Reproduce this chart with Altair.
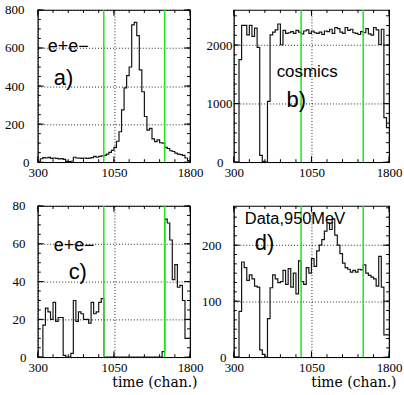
import altair as alt
import pandas as pd

# Time spectra: 60 bins of 25 channels between 300 and 1800
BIN_START = 300
BIN_WIDTH = 25

counts_a = [5, 18, 24, 22, 25, 20, 22, 20, 17, 19,
            15, 4, 3, 5, 26, 22, 21, 20, 22, 20,
            21, 24, 30, 26, 30, 33, 36, 42, 52, 62,
            78, 110, 160, 275, 390, 455, 500, 722, 735, 665,
            485, 370, 240, 168, 178, 122, 108, 117, 102, 100,
            78, 72, 60, 56, 48, 42, 40, 36, 22, 8]

counts_b = [0, 0, 1750, 2335, 2335, 2175, 2335, 2150, 2290, 1960,
            115, 15, 0, 1040, 2175, 2220, 2260, 2360, 2005, 2250,
            2200, 2210, 2230, 2200, 2250, 2220, 2190, 2240, 2260, 2200,
            2240, 2210, 2200, 2220, 2180, 2240, 2230, 2270, 2200, 2300,
            2280, 2220, 2200, 2300, 2250, 2270, 2210, 2200, 2180, 2230,
            2210, 2280, 2190, 2170, 2300, 2260, 2010, 2270, 760, 590]

counts_c = [0, 0, 17, 26, 24, 20, 29, 19, 21, 21,
            1, 0, 0, 2, 30, 19, 24, 23, 20, 20,
            18, 29, 23, 24, 29, 31, 0, 0, 0, 0,
            0, 0, 0, 0, 0, 0, 0, 0, 0, 0,
            0, 0, 0, 0, 0, 0, 0, 0, 0, 3,
            73, 71, 62, 41, 49, 37, 38, 30, 10, 10]

counts_d = [0, 0, 82, 170, 160, 137, 147, 140, 127, 125,
            13, 5, 0, 69, 124, 147, 140, 133, 135, 155,
            130, 158, 125, 150, 113, 172, 135, 130, 160, 150,
            176, 162, 190, 200, 210, 225, 240, 228, 247, 218,
            200, 185, 168, 160, 157, 152, 155, 152, 157, 156,
            165, 150, 146, 143, 140, 127, 180, 125, 40, 40]

# time-window cuts
cut_channels = [950, 1550]

# axis labels and tick marks
x_label_values = [300, 1050, 1800]
x_minor_ticks = [300, 450, 600, 750, 900, 1050, 1200, 1350, 1500, 1650, 1800]

y_labels_a = [0, 200, 400, 600, 800]
y_labels_b = [0, 1000, 2000]
y_labels_c = [0, 20, 40, 60, 80]
y_labels_d = [0, 100, 200]

y_minor_a = [50 * i for i in range(17)]
y_minor_b = [1000 * i / 6 for i in range(16)]
y_minor_c = [5 * i for i in range(17)]
y_minor_d = [100 * i / 6 for i in range(17)]

x_title = "time (chan.)"
tags = [("e+e\u2212", "a)"), ("cosmics", "b)"), ("e+e\u2212", "c)"), ("Data,950MeV", "d)")]

SERIF = "Liberation Serif"
SANS = "Liberation Sans"
GREEN = "#1ee61e"


def x_channel(w, with_title):
    kw = dict(values=x_label_values, ticks=False, domain=False, grid=True,
              gridColor="black", gridDash=[1, 2], gridWidth=1, gridOpacity=0.85,
              labelFont=SERIF, labelFontSize=13, labelColor="black", labelPadding=4,
              labelFlush=False, labelOverlap=False, format="d")
    if with_title:
        kw.update(title=x_title, titleFont="DejaVu Serif", titleFontSize=14,
                  titleFontWeight="normal", titleColor="black", titleAnchor="end",
                  titleAlign="right", titleBaseline="top", titleX=w + 7, titleY=18)
    else:
        kw.update(title=None)
    return alt.X("x:Q", scale=alt.Scale(domain=[300, 1800], nice=False, zero=False),
                 axis=alt.Axis(**kw))


def y_channel(domain, labels, pad_zero, pad):
    return alt.Y("n:Q", scale=alt.Scale(domain=domain, nice=False, zero=True),
                 axis=alt.Axis(values=labels, title=None, ticks=False, domain=False, grid=True,
                               gridColor="black", gridDash=[1, 2], gridWidth=1, gridOpacity=0.85,
                               labelFont=SERIF, labelFontSize=13, labelColor="black",
                               labelAlign="right", labelBaseline="middle",
                               labelPadding={"condition": {"test": "datum.value === 0", "value": pad_zero},
                                             "value": pad},
                               labelFlush=False, labelOverlap=False, format="d"))


def tick_layers(xc, yc, y_minor, y_major, w, h):
    out = []
    for vals, size in ((x_minor_ticks, 3), (x_label_values, 6)):
        rule = alt.Chart(pd.DataFrame({"x": vals})).mark_rule(color="black", strokeWidth=1)
        out.append(rule.encode(x=xc, y=alt.value(h), y2=alt.value(h - size)))
        out.append(rule.encode(x=xc, y=alt.value(0), y2=alt.value(size)))
    for vals, size in ((y_minor, 3), (y_major, 6)):
        rule = alt.Chart(pd.DataFrame({"n": vals})).mark_rule(color="black", strokeWidth=1)
        out.append(rule.encode(y=yc, x=alt.value(0), x2=alt.value(size)))
        out.append(rule.encode(y=yc, x=alt.value(w), x2=alt.value(w - size)))
    return out


def step_layer(counts, xc, yc):
    edges = [BIN_START + BIN_WIDTH * i for i in range(len(counts) + 1)]
    src = pd.DataFrame({"x": edges, "n": list(counts) + [counts[-1]]})
    return alt.Chart(src).mark_line(interpolate="step-after", color="#151515",
                                    strokeWidth=1.2).encode(x=xc, y=yc)


def cut_layer(xc):
    return alt.Chart(pd.DataFrame({"x": cut_channels})).mark_rule(
        color=GREEN, strokeWidth=1.5).encode(x=xc)


def text_layer(text, x, y, size):
    return alt.Chart(pd.DataFrame({"t": [text]})).mark_text(
        font=SANS, fontSize=size, align="left", baseline="alphabetic", color="black"
    ).encode(x=alt.value(x), y=alt.value(y), text="t:N")


def spacer(x, y):
    # invisible corner mark fixing the page extent
    return alt.Chart(pd.DataFrame({"t": [0]})).mark_rule(opacity=0, strokeOpacity=0).encode(
        x=alt.value(x), x2=alt.value(x + 1), y=alt.value(y), y2=alt.value(y + 1))


def panel(counts, domain, labels, minor, w, h, pads, tag, tag_pos, tag_size, letter_pos,
          bottom, extra=()):
    xc = x_channel(w, bottom)
    yc = y_channel(domain, labels, pads[0], pads[1])
    layers = tick_layers(xc, yc, minor, labels, w, h)
    layers += [step_layer(counts, xc, yc), cut_layer(xc),
               text_layer(tag[0], tag_pos[0], tag_pos[1], tag_size),
               text_layer(tag[1], letter_pos[0], letter_pos[1], 22)]
    layers += list(extra)
    return alt.layer(*layers).properties(width=w, height=h)


pa = panel(counts_a, [0, 800], y_labels_a, y_minor_a, 153, 153, (9, 14), tags[0],
           (10, 42), 18, (16, 75), False, extra=[spacer(-37, -8)])
pb = panel(counts_b, [0, 2600], y_labels_b, y_minor_b, 156, 153, (11, 2), tags[1],
           (43, 67), 17, (53, 98), False)
pc = panel(counts_c, [0, 80], y_labels_c, y_minor_c, 153, 152, (12, 13), tags[2],
           (16, 45), 18, (31, 73), True)
pd_ = panel(counts_d, [0, 270], y_labels_d, y_minor_d, 156, 152, (8, 13), tags[3],
            (11, 18), 16.5, (21, 44), True, extra=[spacer(169, 189)])

chart = alt.concat(pa, pb, pc, pd_, columns=2, spacing=44, bounds="flush",
                   align="each").properties(
    padding=0, background="white"
).configure_view(stroke="black", strokeWidth=1.2)

chart.save("out.html", embed_options={"renderer": "svg", "actions": False})
